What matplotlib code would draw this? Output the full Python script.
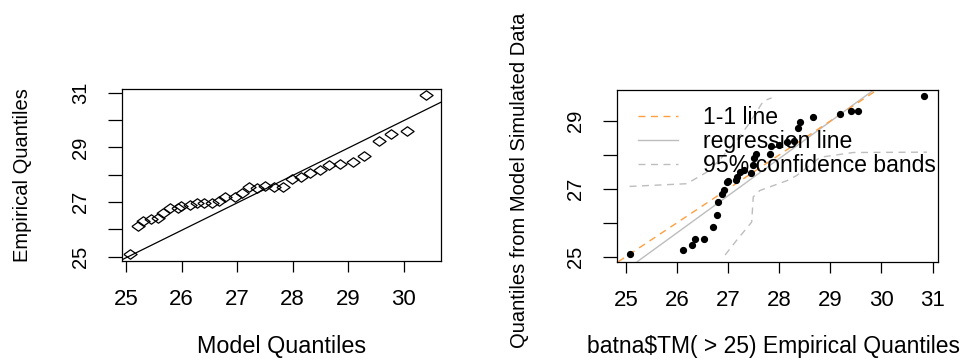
import matplotlib
matplotlib.use("Agg")
import matplotlib.pyplot as plt
from matplotlib.path import Path

plt.rcParams['font.family'] = ['Liberation Sans', 'DejaVu Sans']

# left panel: QQ plot, model quantiles vs empirical quantiles
model_q = [25.07, 25.21, 25.31, 25.44, 25.58, 25.67, 25.79, 25.93, 25.99, 26.15,
           26.28, 26.40, 26.54, 26.67, 26.79, 26.96, 27.09, 27.22, 27.36, 27.51,
           27.67, 27.82, 27.99, 28.15, 28.31, 28.50, 28.66, 28.86, 29.09, 29.29,
           29.55, 29.77, 30.07, 30.41]
emp_q = [25.10, 26.12, 26.29, 26.37, 26.41, 26.59, 26.77, 26.80, 26.85, 26.89,
         26.95, 26.95, 26.95, 27.04, 27.20, 27.20, 27.32, 27.54, 27.50, 27.59,
         27.54, 27.56, 27.84, 27.90, 28.07, 28.17, 28.34, 28.41, 28.46, 28.68,
         29.24, 29.48, 29.60, 30.91]
qq_intercept, qq_slope = -0.14, 1.004

# right panel: empirical vs simulated quantiles
emp_x = [25.07, 26.11, 26.29, 26.35, 26.53, 26.71, 26.78, 26.81, 26.87, 26.92,
         26.97, 27.00, 27.15, 27.17, 27.23, 27.30, 27.44, 27.48, 27.51, 27.55,
         27.82, 27.84, 28.00, 28.15, 28.28, 28.36, 28.41, 28.66, 29.18, 29.40,
         29.54, 30.84]
sim_y = [25.08, 25.20, 25.33, 25.51, 25.51, 25.88, 26.22, 26.61, 26.85, 26.95,
         27.20, 27.22, 27.26, 27.34, 27.49, 27.56, 27.46, 27.70, 27.91, 28.04,
         28.04, 28.27, 28.29, 28.37, 28.40, 28.80, 28.98, 29.12, 29.21, 29.29,
         29.29, 29.73]
reg_intercept, reg_slope = -2.74, 1.094

upper_x = [25.07, 26.19, 26.35, 26.58, 26.80, 27.10, 27.40, 27.69, 27.85]
upper_y = [27.07, 27.15, 27.29, 27.49, 27.80, 28.30, 28.90, 29.59, 29.68]
lower_x = [26.94, 27.17, 27.46, 27.49, 27.62, 28.15, 28.34, 28.80, 29.45, 30.89]
lower_y = [25.05, 25.49, 26.02, 26.76, 26.95, 27.24, 27.39, 27.93, 28.07, 28.08]

legend_labels = ['1-1 line', 'regression line', '95% confidence bands']

fig = plt.figure(figsize=(9.68, 3.61), dpi=100)
ax1 = fig.add_axes([0.1257, 0.277, 0.3296, 0.4756])
ax2 = fig.add_axes([0.6377, 0.275, 0.331, 0.4745])

# wide diamond, like the squashed R circles
diamond = Path([(-1.4, 0), (0, 1), (1.4, 0), (0, -1), (-1.4, 0)])

ax1.plot(model_q, emp_q, linestyle='none', marker=diamond, markersize=9.5,
         mfc='none', mec='black', mew=0.9)
ax1.axline((0, qq_intercept), slope=qq_slope, color='black', lw=0.9)
ax1.set_xlim(24.92, 30.67)
ax1.set_ylim(24.84, 31.13)
ax1.set_xticks([25, 26, 27, 28, 29, 30])
ax1.set_yticks([25, 26, 27, 28, 29, 30, 31])
ax1.set_yticklabels(['25', '', '27', '', '29', '', '31'])

ax2.axline((0, reg_intercept), slope=reg_slope, color='#bdbdbd', lw=1.0)
ax2.plot(upper_x, upper_y, color='#bdbdbd', lw=1.0, ls=(0, (5, 4)))
ax2.plot(lower_x, lower_y, color='#bdbdbd', lw=1.0, ls=(0, (5, 4)))
ax2.axline((25, 25), slope=1, color='#ff9f40', lw=1.0, ls=(0, (5, 4)))
ax2.plot(emp_x, sim_y, linestyle='none', marker='o', markersize=4.2,
         color='black')
ax2.set_xlim(24.83, 31.10)
ax2.set_ylim(24.85, 29.90)
ax2.set_xticks([25, 26, 27, 28, 29, 30, 31])
ax2.set_yticks([25, 26, 27, 28, 29])
ax2.set_yticklabels(['25', '', '27', '', '29'])

for ax in (ax1, ax2):
    for s in ax.spines.values():
        s.set_linewidth(0.9)
    ax.tick_params(axis='x', length=8, width=0.9, pad=12, labelsize=16)
    ax.tick_params(axis='y', length=10, width=0.9, pad=13, labelsize=14.5)
    for t in ax.get_yticklabels():
        t.set_rotation(90)
        t.set_va('center')

# legend drawn as in R (no box)
h1, = ax2.plot([], [], color='#ff9f40', lw=1.0, ls=(0, (5, 4)))
h2, = ax2.plot([], [], color='#bdbdbd', lw=1.0)
h3, = ax2.plot([], [], color='#bdbdbd', lw=1.0, ls=(0, (5, 4)))
ax2.legend([h1, h2, h3], legend_labels, loc='upper left', frameon=False,
           fontsize=16.6, handlelength=1.74, handletextpad=1.08,
           labelspacing=0.06, borderaxespad=0.0,
           bbox_to_anchor=(0.036, 0.965))

fig.text(0.2905, 0.039, 'Model Quantiles', ha='center', va='center',
         fontsize=16.8)
fig.text(0.023, 0.5146, 'Empirical Quantiles', ha='center', va='center',
         rotation=90, fontsize=14.5)
fig.text(0.7995, 0.039, 'batna$TM( > 25) Empirical Quantiles', ha='center',
         va='center', fontsize=16.5)
fig.text(0.537, 0.5, 'Quantiles from Model Simulated Data', ha='center',
         va='center', rotation=90, fontsize=14.5)

fig.savefig('out.png', dpi=100)
